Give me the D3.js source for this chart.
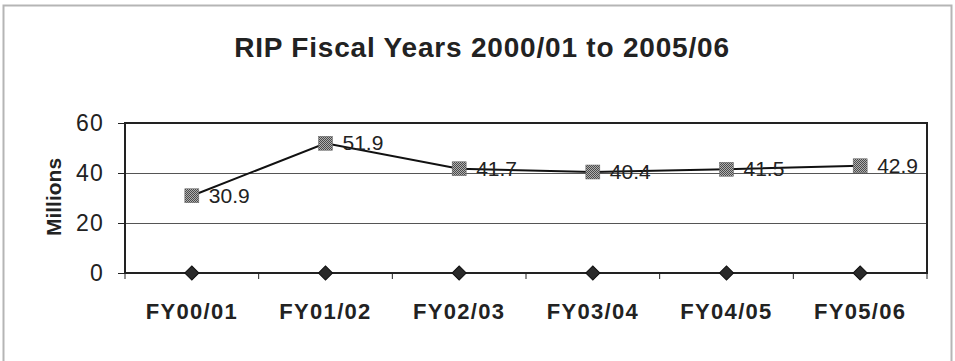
<!DOCTYPE html>
<html>
<head>
<meta charset="utf-8">
<script src="https://cdn.jsdelivr.net/npm/d3@7"></script>
<style>
  html, body { margin: 0; padding: 0; background: #fff; }
  svg { display: block; font-family: Arial, "Liberation Sans", sans-serif; }
</style>
</head>
<body>
<svg id="chart" width="955" height="361"></svg>
<script>
// chart values
const years = ['FY00/01', 'FY01/02', 'FY02/03', 'FY03/04', 'FY04/05', 'FY05/06']
const ripValues = [30.9, 51.9, 41.7, 40.4, 41.5, 42.9]
const baseValues = [0, 0, 0, 0, 0, 0]
const yTicks = [0, 20, 40, 60]
const title = 'RIP Fiscal Years 2000/01 to 2005/06'
const yTitle = 'Millions'

const svg = d3.select('#chart')
const ink = '#222'
const plot = {left: 125, right: 927, top: 123, bottom: 273}

// dithered gray fill like the scanned squares
const defs = svg.append('defs')
const pat = defs.append('pattern').attr('id', 'dither')
  .attr('width', 2).attr('height', 2).attr('patternUnits', 'userSpaceOnUse')
pat.append('rect').attr('width', 2).attr('height', 2).attr('fill', '#b0b0b0')
pat.append('rect').attr('width', 1).attr('height', 1).attr('fill', '#4a4a4a')
pat.append('rect').attr('x', 1).attr('y', 1).attr('width', 1).attr('height', 1).attr('fill', '#4a4a4a')

// outer chart frame
svg.append('rect').attr('x', 3.5).attr('y', 5.5).attr('width', 948).attr('height', 400)
  .attr('fill', 'none').attr('stroke', '#b5b5b5').attr('stroke-width', 2)

const x = d3.scaleBand().domain(years).range([plot.left, plot.right]).padding(0)
const y = d3.scaleLinear().domain([0, 60]).range([plot.bottom, plot.top])
const cx = d => x(d) + x.bandwidth() / 2

// gridlines
svg.append('g').selectAll('line').data(yTicks.filter(t => t > 0 && t < 60)).join('line')
  .attr('x1', plot.left).attr('x2', plot.right)
  .attr('y1', d => y(d) + 0.5).attr('y2', d => y(d) + 0.5)
  .attr('stroke', '#555').attr('stroke-width', 1)

// plot box
svg.append('rect').attr('x', plot.left).attr('y', plot.top)
  .attr('width', plot.right - plot.left).attr('height', plot.bottom - plot.top)
  .attr('fill', 'none').attr('stroke', ink).attr('stroke-width', 2)

// y axis
const yAxis = svg.append('g').attr('transform', `translate(${plot.left},0)`)
  .call(d3.axisLeft(y).tickValues(yTicks).tickSize(7).tickPadding(14).tickFormat(d3.format('d')))
yAxis.select('.domain').remove()
yAxis.selectAll('line').attr('stroke', ink).attr('stroke-width', 1)
yAxis.selectAll('text').attr('fill', ink).attr('font-size', 23).attr('font-family', 'Arial, "Liberation Sans"')
  .attr('letter-spacing', 1.2).attr('dy', '0.34em')

// x axis ticks at category edges
const xAxis = svg.append('g').attr('transform', `translate(0,${plot.bottom})`)
xAxis.selectAll('line').data(d3.range(years.length + 1)).join('line')
  .attr('x1', i => plot.left + i * x.bandwidth()).attr('x2', i => plot.left + i * x.bandwidth())
  .attr('y1', 0).attr('y2', 6).attr('stroke', ink).attr('stroke-width', 1)
xAxis.selectAll('text').data(years).join('text')
  .attr('x', d => cx(d)).attr('y', 46)
  .attr('text-anchor', 'middle').attr('font-size', 22).attr('font-weight', 'bold')
  .attr('letter-spacing', 1.3).attr('fill', ink).text(d => d)

// titles
svg.append('text').attr('x', 482).attr('y', 57).attr('text-anchor', 'middle')
  .attr('font-size', 28).attr('font-weight', 'bold').attr('letter-spacing', 0.8)
  .attr('fill', ink).text(title)
svg.append('text').attr('transform', 'translate(61,197) rotate(-90)').attr('text-anchor', 'middle')
  .attr('font-size', 21).attr('font-weight', 'bold').attr('fill', ink).text(yTitle)

// zero series
const line = d3.line().x((d, i) => cx(years[i])).y(d => y(d))
svg.append('path').attr('d', line(baseValues)).attr('fill', 'none')
  .attr('stroke', ink).attr('stroke-width', 2)
svg.append('g').selectAll('path').data(baseValues).join('path')
  .attr('d', d3.symbol(d3.symbolSquare, 100))
  .attr('transform', (d, i) => `translate(${cx(years[i])},${y(d)}) rotate(45)`)
  .attr('fill', '#2a2a2a').attr('stroke', '#111').attr('stroke-width', 1)

// RIP series
svg.append('path').attr('d', line(ripValues)).attr('fill', 'none')
  .attr('stroke', '#111').attr('stroke-width', 2)
svg.append('g').selectAll('rect').data(ripValues).join('rect')
  .attr('x', (d, i) => cx(years[i]) - 7).attr('y', d => y(d) - 7)
  .attr('width', 14).attr('height', 14)
  .attr('fill', 'url(#dither)').attr('stroke', '#666').attr('stroke-width', 0.5)
svg.append('g').selectAll('text').data(ripValues).join('text')
  .attr('x', (d, i) => cx(years[i]) + 17).attr('y', d => y(d) + 7)
  .attr('font-size', 21).attr('fill', ink).text(d => d3.format('.1f')(d))
</script>
</body>
</html>
